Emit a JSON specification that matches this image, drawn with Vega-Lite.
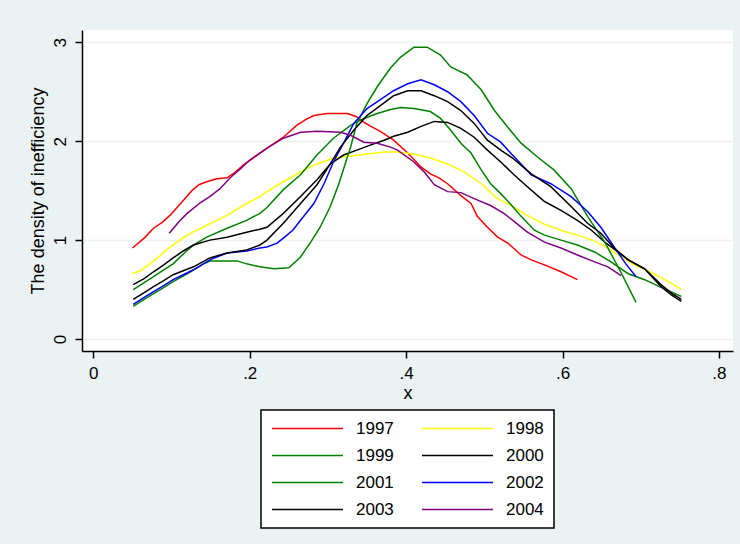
{
  "$schema": "https://vega.github.io/schema/vega-lite/v6.json",
  "width": 651,
  "height": 321,
  "autosize": {"type": "none"},
  "padding": {"left": 82, "top": 30, "right": 7, "bottom": 193},
  "background": "#EAF2F3",
  "view": {"fill": "white", "stroke": null},
  "datasets": {
    "d": [
      {"year":"1997","x":0.05,"y":0.92},{"year":"1997","x":0.065,"y":1.02},{"year":"1997","x":0.077,"y":1.12},{"year":"1997","x":0.088,"y":1.18},{"year":"1997","x":0.098,"y":1.25},{"year":"1997","x":0.115,"y":1.40},{"year":"1997","x":0.126,"y":1.50},{"year":"1997","x":0.135,"y":1.56},{"year":"1997","x":0.145,"y":1.59},{"year":"1997","x":0.158,"y":1.62},{"year":"1997","x":0.171,"y":1.63},{"year":"1997","x":0.182,"y":1.69},{"year":"1997","x":0.192,"y":1.76},{"year":"1997","x":0.203,"y":1.82},{"year":"1997","x":0.213,"y":1.88},{"year":"1997","x":0.228,"y":1.96},{"year":"1997","x":0.243,"y":2.04},{"year":"1997","x":0.26,"y":2.16},{"year":"1997","x":0.272,"y":2.22},{"year":"1997","x":0.282,"y":2.26},{"year":"1997","x":0.299,"y":2.28},{"year":"1997","x":0.312,"y":2.28},{"year":"1997","x":0.325,"y":2.28},{"year":"1997","x":0.336,"y":2.25},{"year":"1997","x":0.346,"y":2.19},{"year":"1997","x":0.355,"y":2.15},{"year":"1997","x":0.367,"y":2.10},{"year":"1997","x":0.384,"y":2.01},{"year":"1997","x":0.402,"y":1.88},{"year":"1997","x":0.419,"y":1.74},{"year":"1997","x":0.431,"y":1.67},{"year":"1997","x":0.442,"y":1.63},{"year":"1997","x":0.453,"y":1.57},{"year":"1997","x":0.47,"y":1.45},{"year":"1997","x":0.483,"y":1.37},{"year":"1997","x":0.491,"y":1.24},{"year":"1997","x":0.504,"y":1.13},{"year":"1997","x":0.517,"y":1.03},{"year":"1997","x":0.53,"y":0.97},{"year":"1997","x":0.547,"y":0.85},{"year":"1997","x":0.56,"y":0.80},{"year":"1997","x":0.577,"y":0.75},{"year":"1997","x":0.598,"y":0.68},{"year":"1997","x":0.619,"y":0.60},
      {"year":"1998","x":0.05,"y":0.66},{"year":"1998","x":0.06,"y":0.69},{"year":"1998","x":0.072,"y":0.76},{"year":"1998","x":0.085,"y":0.84},{"year":"1998","x":0.098,"y":0.93},{"year":"1998","x":0.12,"y":1.05},{"year":"1998","x":0.145,"y":1.15},{"year":"1998","x":0.171,"y":1.25},{"year":"1998","x":0.196,"y":1.37},{"year":"1998","x":0.213,"y":1.44},{"year":"1998","x":0.222,"y":1.49},{"year":"1998","x":0.243,"y":1.59},{"year":"1998","x":0.265,"y":1.69},{"year":"1998","x":0.286,"y":1.77},{"year":"1998","x":0.307,"y":1.83},{"year":"1998","x":0.329,"y":1.85},{"year":"1998","x":0.35,"y":1.87},{"year":"1998","x":0.372,"y":1.89},{"year":"1998","x":0.389,"y":1.89},{"year":"1998","x":0.41,"y":1.87},{"year":"1998","x":0.431,"y":1.83},{"year":"1998","x":0.453,"y":1.77},{"year":"1998","x":0.474,"y":1.69},{"year":"1998","x":0.496,"y":1.57},{"year":"1998","x":0.517,"y":1.42},{"year":"1998","x":0.534,"y":1.35},{"year":"1998","x":0.555,"y":1.25},{"year":"1998","x":0.577,"y":1.16},{"year":"1998","x":0.598,"y":1.10},{"year":"1998","x":0.619,"y":1.05},{"year":"1998","x":0.641,"y":0.99},{"year":"1998","x":0.658,"y":0.92},{"year":"1998","x":0.675,"y":0.83},{"year":"1998","x":0.692,"y":0.75},{"year":"1998","x":0.709,"y":0.69},{"year":"1998","x":0.726,"y":0.62},{"year":"1998","x":0.74,"y":0.56},{"year":"1998","x":0.752,"y":0.50},
      {"year":"1999","x":0.051,"y":0.50},{"year":"1999","x":0.065,"y":0.57},{"year":"1999","x":0.077,"y":0.63},{"year":"1999","x":0.09,"y":0.70},{"year":"1999","x":0.102,"y":0.76},{"year":"1999","x":0.115,"y":0.86},{"year":"1999","x":0.128,"y":0.95},{"year":"1999","x":0.145,"y":1.03},{"year":"1999","x":0.171,"y":1.12},{"year":"1999","x":0.196,"y":1.20},{"year":"1999","x":0.213,"y":1.27},{"year":"1999","x":0.222,"y":1.33},{"year":"1999","x":0.243,"y":1.51},{"year":"1999","x":0.265,"y":1.66},{"year":"1999","x":0.286,"y":1.86},{"year":"1999","x":0.307,"y":2.03},{"year":"1999","x":0.329,"y":2.16},{"year":"1999","x":0.346,"y":2.23},{"year":"1999","x":0.363,"y":2.28},{"year":"1999","x":0.38,"y":2.32},{"year":"1999","x":0.393,"y":2.34},{"year":"1999","x":0.41,"y":2.33},{"year":"1999","x":0.431,"y":2.30},{"year":"1999","x":0.444,"y":2.23},{"year":"1999","x":0.457,"y":2.11},{"year":"1999","x":0.47,"y":1.98},{"year":"1999","x":0.483,"y":1.88},{"year":"1999","x":0.496,"y":1.71},{"year":"1999","x":0.508,"y":1.57},{"year":"1999","x":0.521,"y":1.47},{"year":"1999","x":0.534,"y":1.36},{"year":"1999","x":0.547,"y":1.24},{"year":"1999","x":0.564,"y":1.10},{"year":"1999","x":0.577,"y":1.05},{"year":"1999","x":0.598,"y":1.00},{"year":"1999","x":0.619,"y":0.95},{"year":"1999","x":0.641,"y":0.88},{"year":"1999","x":0.662,"y":0.78},{"year":"1999","x":0.684,"y":0.66},{"year":"1999","x":0.705,"y":0.60},{"year":"1999","x":0.724,"y":0.53},{"year":"1999","x":0.752,"y":0.43},
      {"year":"2000","x":0.051,"y":0.55},{"year":"2000","x":0.065,"y":0.61},{"year":"2000","x":0.077,"y":0.68},{"year":"2000","x":0.09,"y":0.75},{"year":"2000","x":0.102,"y":0.82},{"year":"2000","x":0.115,"y":0.89},{"year":"2000","x":0.128,"y":0.95},{"year":"2000","x":0.149,"y":1.00},{"year":"2000","x":0.171,"y":1.03},{"year":"2000","x":0.196,"y":1.08},{"year":"2000","x":0.213,"y":1.11},{"year":"2000","x":0.222,"y":1.13},{"year":"2000","x":0.243,"y":1.27},{"year":"2000","x":0.265,"y":1.44},{"year":"2000","x":0.286,"y":1.61},{"year":"2000","x":0.303,"y":1.77},{"year":"2000","x":0.32,"y":1.86},{"year":"2000","x":0.337,"y":1.91},{"year":"2000","x":0.354,"y":1.96},{"year":"2000","x":0.372,"y":2.01},{"year":"2000","x":0.384,"y":2.05},{"year":"2000","x":0.402,"y":2.09},{"year":"2000","x":0.419,"y":2.15},{"year":"2000","x":0.436,"y":2.20},{"year":"2000","x":0.453,"y":2.19},{"year":"2000","x":0.47,"y":2.13},{"year":"2000","x":0.487,"y":2.04},{"year":"2000","x":0.504,"y":1.91},{"year":"2000","x":0.521,"y":1.79},{"year":"2000","x":0.538,"y":1.66},{"year":"2000","x":0.555,"y":1.54},{"year":"2000","x":0.577,"y":1.39},{"year":"2000","x":0.598,"y":1.30},{"year":"2000","x":0.619,"y":1.20},{"year":"2000","x":0.637,"y":1.10},{"year":"2000","x":0.654,"y":0.98},{"year":"2000","x":0.671,"y":0.88},{"year":"2000","x":0.684,"y":0.80},{"year":"2000","x":0.705,"y":0.71},{"year":"2000","x":0.726,"y":0.55},{"year":"2000","x":0.74,"y":0.46},{"year":"2000","x":0.752,"y":0.40},
      {"year":"2001","x":0.051,"y":0.33},{"year":"2001","x":0.065,"y":0.40},{"year":"2001","x":0.077,"y":0.46},{"year":"2001","x":0.09,"y":0.52},{"year":"2001","x":0.102,"y":0.58},{"year":"2001","x":0.12,"y":0.66},{"year":"2001","x":0.141,"y":0.76},{"year":"2001","x":0.15,"y":0.79},{"year":"2001","x":0.184,"y":0.79},{"year":"2001","x":0.196,"y":0.76},{"year":"2001","x":0.213,"y":0.73},{"year":"2001","x":0.231,"y":0.71},{"year":"2001","x":0.25,"y":0.72},{"year":"2001","x":0.265,"y":0.83},{"year":"2001","x":0.278,"y":0.98},{"year":"2001","x":0.29,"y":1.13},{"year":"2001","x":0.303,"y":1.34},{"year":"2001","x":0.314,"y":1.57},{"year":"2001","x":0.322,"y":1.77},{"year":"2001","x":0.329,"y":1.94},{"year":"2001","x":0.337,"y":2.18},{"year":"2001","x":0.35,"y":2.38},{"year":"2001","x":0.363,"y":2.55},{"year":"2001","x":0.38,"y":2.74},{"year":"2001","x":0.393,"y":2.85},{"year":"2001","x":0.41,"y":2.95},{"year":"2001","x":0.427,"y":2.95},{"year":"2001","x":0.444,"y":2.87},{"year":"2001","x":0.457,"y":2.75},{"year":"2001","x":0.478,"y":2.67},{"year":"2001","x":0.496,"y":2.52},{"year":"2001","x":0.513,"y":2.31},{"year":"2001","x":0.53,"y":2.14},{"year":"2001","x":0.547,"y":1.98},{"year":"2001","x":0.568,"y":1.84},{"year":"2001","x":0.589,"y":1.71},{"year":"2001","x":0.611,"y":1.52},{"year":"2001","x":0.632,"y":1.24},{"year":"2001","x":0.654,"y":0.98},{"year":"2001","x":0.675,"y":0.67},{"year":"2001","x":0.694,"y":0.37},
      {"year":"2002","x":0.051,"y":0.35},{"year":"2002","x":0.065,"y":0.42},{"year":"2002","x":0.077,"y":0.48},{"year":"2002","x":0.09,"y":0.54},{"year":"2002","x":0.102,"y":0.60},{"year":"2002","x":0.115,"y":0.65},{"year":"2002","x":0.128,"y":0.70},{"year":"2002","x":0.149,"y":0.80},{"year":"2002","x":0.171,"y":0.87},{"year":"2002","x":0.196,"y":0.89},{"year":"2002","x":0.213,"y":0.92},{"year":"2002","x":0.222,"y":0.93},{"year":"2002","x":0.235,"y":0.97},{"year":"2002","x":0.243,"y":1.02},{"year":"2002","x":0.255,"y":1.10},{"year":"2002","x":0.265,"y":1.20},{"year":"2002","x":0.282,"y":1.37},{"year":"2002","x":0.295,"y":1.57},{"year":"2002","x":0.307,"y":1.79},{"year":"2002","x":0.32,"y":1.98},{"year":"2002","x":0.333,"y":2.18},{"year":"2002","x":0.35,"y":2.33},{"year":"2002","x":0.367,"y":2.42},{"year":"2002","x":0.384,"y":2.51},{"year":"2002","x":0.402,"y":2.58},{"year":"2002","x":0.419,"y":2.62},{"year":"2002","x":0.436,"y":2.57},{"year":"2002","x":0.453,"y":2.50},{"year":"2002","x":0.47,"y":2.40},{"year":"2002","x":0.487,"y":2.26},{"year":"2002","x":0.504,"y":2.08},{"year":"2002","x":0.521,"y":1.99},{"year":"2002","x":0.536,"y":1.86},{"year":"2002","x":0.56,"y":1.66},{"year":"2002","x":0.585,"y":1.57},{"year":"2002","x":0.611,"y":1.44},{"year":"2002","x":0.632,"y":1.29},{"year":"2002","x":0.649,"y":1.13},{"year":"2002","x":0.666,"y":0.93},{"year":"2002","x":0.681,"y":0.76},{"year":"2002","x":0.694,"y":0.63},
      {"year":"2003","x":0.051,"y":0.40},{"year":"2003","x":0.065,"y":0.47},{"year":"2003","x":0.077,"y":0.53},{"year":"2003","x":0.09,"y":0.59},{"year":"2003","x":0.102,"y":0.65},{"year":"2003","x":0.115,"y":0.69},{"year":"2003","x":0.128,"y":0.73},{"year":"2003","x":0.149,"y":0.82},{"year":"2003","x":0.171,"y":0.87},{"year":"2003","x":0.196,"y":0.90},{"year":"2003","x":0.213,"y":0.95},{"year":"2003","x":0.222,"y":1.00},{"year":"2003","x":0.243,"y":1.17},{"year":"2003","x":0.265,"y":1.37},{"year":"2003","x":0.286,"y":1.56},{"year":"2003","x":0.303,"y":1.77},{"year":"2003","x":0.316,"y":1.94},{"year":"2003","x":0.333,"y":2.11},{"year":"2003","x":0.35,"y":2.26},{"year":"2003","x":0.367,"y":2.36},{"year":"2003","x":0.384,"y":2.46},{"year":"2003","x":0.402,"y":2.51},{"year":"2003","x":0.419,"y":2.51},{"year":"2003","x":0.436,"y":2.46},{"year":"2003","x":0.453,"y":2.40},{"year":"2003","x":0.47,"y":2.31},{"year":"2003","x":0.487,"y":2.18},{"year":"2003","x":0.504,"y":2.01},{"year":"2003","x":0.521,"y":1.91},{"year":"2003","x":0.536,"y":1.83},{"year":"2003","x":0.56,"y":1.67},{"year":"2003","x":0.585,"y":1.54},{"year":"2003","x":0.611,"y":1.34},{"year":"2003","x":0.632,"y":1.17},{"year":"2003","x":0.649,"y":1.07},{"year":"2003","x":0.666,"y":0.92},{"year":"2003","x":0.684,"y":0.80},{"year":"2003","x":0.705,"y":0.71},{"year":"2003","x":0.726,"y":0.53},{"year":"2003","x":0.74,"y":0.44},{"year":"2003","x":0.752,"y":0.38},
      {"year":"2004","x":0.097,"y":1.07},{"year":"2004","x":0.11,"y":1.19},{"year":"2004","x":0.12,"y":1.27},{"year":"2004","x":0.137,"y":1.38},{"year":"2004","x":0.149,"y":1.44},{"year":"2004","x":0.162,"y":1.52},{"year":"2004","x":0.175,"y":1.63},{"year":"2004","x":0.188,"y":1.72},{"year":"2004","x":0.2,"y":1.81},{"year":"2004","x":0.213,"y":1.88},{"year":"2004","x":0.222,"y":1.93},{"year":"2004","x":0.243,"y":2.03},{"year":"2004","x":0.265,"y":2.09},{"year":"2004","x":0.286,"y":2.10},{"year":"2004","x":0.316,"y":2.09},{"year":"2004","x":0.329,"y":2.06},{"year":"2004","x":0.346,"y":1.99},{"year":"2004","x":0.363,"y":1.98},{"year":"2004","x":0.38,"y":1.94},{"year":"2004","x":0.389,"y":1.91},{"year":"2004","x":0.41,"y":1.79},{"year":"2004","x":0.423,"y":1.69},{"year":"2004","x":0.436,"y":1.56},{"year":"2004","x":0.453,"y":1.49},{"year":"2004","x":0.47,"y":1.48},{"year":"2004","x":0.487,"y":1.42},{"year":"2004","x":0.508,"y":1.35},{"year":"2004","x":0.525,"y":1.27},{"year":"2004","x":0.538,"y":1.19},{"year":"2004","x":0.555,"y":1.08},{"year":"2004","x":0.577,"y":0.98},{"year":"2004","x":0.598,"y":0.92},{"year":"2004","x":0.619,"y":0.85},{"year":"2004","x":0.641,"y":0.78},{"year":"2004","x":0.658,"y":0.73},{"year":"2004","x":0.675,"y":0.64}
    ]
  },
  "data": {"name": "d"},
  "mark": {"type": "line", "strokeWidth": 1.5, "clip": true},
  "encoding": {
    "x": {
      "field": "x", "type": "quantitative", "title": "x",
      "scale": {"domain": [-0.0145, 0.818], "nice": false, "zero": false},
      "axis": {"values": [0, 0.2, 0.4, 0.6, 0.8], "grid": false,
               "labelExpr": "datum.value === 0 ? '0' : '.' + round(datum.value * 10)",
               "labelPadding": 7, "titlePadding": 3}
    },
    "y": {
      "field": "y", "type": "quantitative", "title": "The density of inefficiency",
      "scale": {"domain": [-0.121, 3.124], "nice": false, "zero": false},
      "axis": {"values": [0, 1, 2, 3], "grid": true, "gridColor": "#EAF2F3", "gridWidth": 1.5,
               "labelAngle": -90, "labelAlign": "center", "labelBaseline": "bottom",
               "labelPadding": 6, "titlePadding": 4}
    },
    "color": {
      "field": "year", "type": "nominal",
      "scale": {"domain": ["1997","1998","1999","2000","2001","2002","2003","2004"],
                "range": ["#FF0000","#FFFF00","#008000","#000000","#008000","#0000FF","#000000","#800080"]},
      "legend": {"title": null, "orient": "none", "legendX": 179, "legendY": 380, "columns": 2,
                 "direction": "horizontal", "clipHeight": 17,
                 "symbolType": "stroke", "symbolSize": 5041, "symbolStrokeWidth": 1.5,
                 "labelFont": "Liberation Sans", "labelFontSize": 17, "labelColor": "#000000",
                 "labelOffset": 12, "columnPadding": 27, "rowPadding": 9, "padding": 10,
                 "strokeColor": "#000000", "fillColor": "#FFFFFF", "labelLimit": 0}
    }
  },
  "config": {
    "font": "Liberation Sans",
    "axis": {
      "domainColor": "#000000", "domainWidth": 1.5, "tickColor": "#000000", "tickWidth": 1.5,
      "tickSize": 7, "labelColor": "#000000", "labelFont": "Liberation Sans", "labelFontSize": 17,
      "titleColor": "#000000", "titleFont": "Liberation Sans", "titleFontSize": 18, "titleFontWeight": "normal"
    },
    "legend": {"strokeWidth": 1.5}
  }
}
